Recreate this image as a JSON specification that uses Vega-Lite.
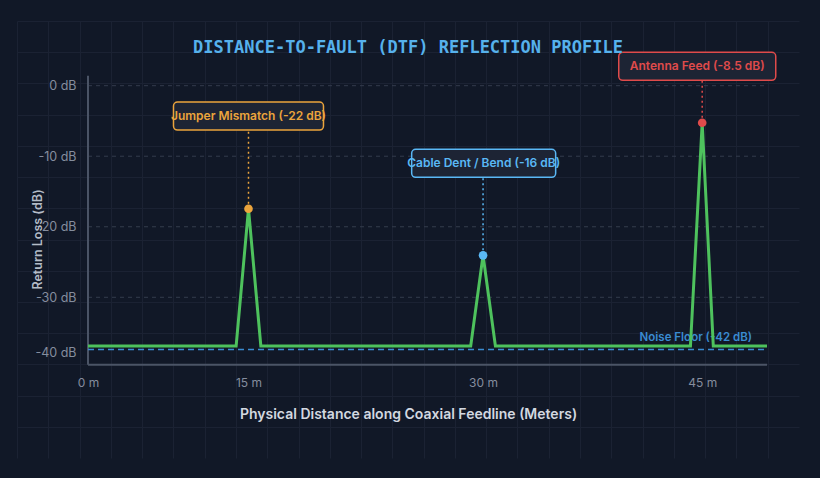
{
  "$schema": "https://vega.github.io/schema/vega-lite/v6.json",
  "autosize": {"type": "none"},
  "width": 782,
  "height": 437,
  "padding": {"left": 17, "top": 21, "right": 21, "bottom": 20},
  "background": "#111827",
  "title": {
    "text": "DISTANCE-TO-FAULT (DTF) REFLECTION PROFILE",
    "font": "DejaVu Sans Mono",
    "fontSize": 17,
    "fontWeight": "bold",
    "color": "#56b1ec",
    "baseline": "middle",
    "offset": -44
  },
  "datasets": {
    "trace": [
      {"sample": 0, "return_loss_db": -36.9},
      {"sample": 12, "return_loss_db": -36.9},
      {"sample": 13, "return_loss_db": -17.45},
      {"sample": 14, "return_loss_db": -36.9},
      {"sample": 31, "return_loss_db": -36.9},
      {"sample": 32, "return_loss_db": -24.05},
      {"sample": 33, "return_loss_db": -36.9},
      {"sample": 48.8, "return_loss_db": -36.9},
      {"sample": 49.75, "return_loss_db": -5.25},
      {"sample": 50.65, "return_loss_db": -36.9},
      {"sample": 55, "return_loss_db": -36.9}
    ],
    "events": [
      {"event": "Jumper Mismatch", "label": "Jumper Mismatch (-22 dB)", "sample": 13, "return_loss_db": -17.45, "label_sample": 13, "label_db": -4.3},
      {"event": "Cable Dent / Bend", "label": "Cable Dent / Bend (-16 dB)", "sample": 32, "return_loss_db": -24.05, "label_sample": 32.05, "label_db": -11},
      {"event": "Antenna Feed", "label": "Antenna Feed (-8.5 dB)", "sample": 49.75, "return_loss_db": -5.25, "label_sample": 49.35, "label_db": 2.75}
    ],
    "ticks": [
      {"return_loss_db": 0},
      {"return_loss_db": -10},
      {"return_loss_db": -20},
      {"return_loss_db": -30}
    ],
    "floor": [
      {"label": "Noise Floor (-42 dB)", "return_loss_db": -37.4}
    ],
    "frame": [{}]
  },
  "data": {"name": "frame"},
  "layer": [
    {
      "mark": {"type": "point", "opacity": 0},
      "encoding": {
        "x": {
          "datum": 0,
          "type": "quantitative",
          "scale": {"domain": [0, 25], "nice": false, "zero": false},
          "axis": {
            "orient": "top",
            "values": [0, 1, 2, 3, 4, 5, 6, 7, 8, 9, 10, 11, 12, 13, 14, 15, 16, 17, 18, 19, 20, 21, 22, 23, 24],
            "grid": true,
            "gridColor": "#1b2233",
            "gridOpacity": 1,
            "labels": false,
            "ticks": false,
            "domain": false,
            "title": null
          }
        },
        "y": {
          "datum": 0,
          "type": "quantitative",
          "scale": {"domain": [0, 14], "nice": false, "zero": false},
          "axis": {
            "orient": "right",
            "values": [1, 2, 3, 4, 5, 6, 7, 8, 9, 10, 11, 12, 13, 14],
            "grid": true,
            "gridColor": "#1b2233",
            "gridOpacity": 1,
            "labels": false,
            "ticks": false,
            "domain": false,
            "title": null
          }
        }
      }
    },
    {
      "layer": [
        {
          "data": {"name": "ticks"},
          "mark": {"type": "rule", "color": "#343c4d", "strokeWidth": 1, "strokeDash": [4, 4]},
          "encoding": {
            "x": {"datum": 0, "type": "quantitative"},
            "x2": {"datum": 55},
            "y": {"field": "return_loss_db", "type": "quantitative"}
          }
        },
        {
          "mark": {"type": "rule", "color": "#4b5466", "strokeWidth": 2},
          "encoding": {
            "x": {"datum": 0, "type": "quantitative"},
            "y": {"datum": 1.42, "type": "quantitative"},
            "y2": {"datum": -39.56}
          }
        },
        {
          "mark": {"type": "rule", "color": "#4b5466", "strokeWidth": 2},
          "encoding": {
            "x": {"datum": 0, "type": "quantitative"},
            "x2": {"datum": 55},
            "y": {"datum": -39.56, "type": "quantitative"}
          }
        },
        {
          "data": {"name": "floor"},
          "mark": {"type": "text", "align": "right", "baseline": "middle", "dx": -15, "dy": -11.5, "font": "Inter", "fontSize": 11.5, "fontWeight": 600, "color": "#3a8bd1"},
          "encoding": {
            "x": {"datum": 55, "type": "quantitative"},
            "y": {"field": "return_loss_db", "type": "quantitative"},
            "text": {"field": "label"}
          }
        },
        {
          "data": {"name": "floor"},
          "mark": {"type": "rule", "color": "#3a8bd1", "strokeWidth": 1.5, "strokeDash": [6, 4]},
          "encoding": {
            "x": {"datum": 0, "type": "quantitative"},
            "x2": {"datum": 55},
            "y": {"field": "return_loss_db", "type": "quantitative"}
          }
        },
        {
          "data": {"name": "events"},
          "mark": {"type": "rule", "strokeWidth": 1.5, "strokeDash": [2, 3]},
          "encoding": {
            "x": {"field": "sample", "type": "quantitative"},
            "y": {"field": "return_loss_db", "type": "quantitative"},
            "y2": {"field": "label_db"},
            "color": {
              "field": "event",
              "type": "nominal",
              "scale": {"domain": ["Jumper Mismatch", "Cable Dent / Bend", "Antenna Feed"], "range": ["#eba43c", "#5ab8f5", "#e04b4b"]},
              "legend": null
            }
          }
        },
        {
          "data": {"name": "trace"},
          "mark": {"type": "line", "color": "#4ec25d", "strokeWidth": 3},
          "encoding": {
            "x": {
              "field": "sample",
              "type": "quantitative",
              "scale": {"domain": [-5.751, 57.592], "nice": false, "zero": false},
              "axis": {
                "orient": "bottom",
                "offset": -93,
                "values": [0, 13, 32, 49.75],
                "labelExpr": "datum.value === 0 ? '0 m' : datum.value === 13 ? '15 m' : datum.value === 32 ? '30 m' : '45 m'",
                "labelFlush": false,
                "domain": false,
                "ticks": false,
                "grid": false,
                "labelPadding": 12,
                "labelFont": "Inter",
                "labelFontSize": 12,
                "labelColor": "#858d9e",
                "title": "Physical Distance along Coaxial Feedline (Meters)",
                "titleFont": "Inter",
                "titleFontSize": 14,
                "titleFontWeight": 600,
                "titleColor": "#d3d8e0",
                "titlePadding": 19
              }
            },
            "y": {
              "field": "return_loss_db",
              "type": "quantitative",
              "scale": {"domain": [-52.786, 9.173], "nice": false, "zero": false},
              "axis": {
                "orient": "left",
                "offset": -71,
                "values": [0, -10, -20, -30, -40],
                "labelExpr": "datum.value + ' dB'",
                "labelOffset": {"condition": {"test": "datum.value === -40", "value": -15.5}, "value": 0},
                "domain": false,
                "ticks": false,
                "grid": false,
                "labelPadding": 12,
                "labelFont": "Inter",
                "labelFontSize": 12.5,
                "labelColor": "#858d9e",
                "title": "Return Loss (dB)",
                "titleX": -51,
                "titleY": 218,
                "titleAngle": 270,
                "titleAlign": "center",
                "titleBaseline": "middle",
                "titleFont": "Inter",
                "titleFontSize": 12.5,
                "titleFontWeight": 600,
                "titleColor": "#b4bcc8"
              }
            }
          }
        },
        {
          "data": {"name": "events"},
          "mark": {"type": "point", "filled": true, "opacity": 1, "size": 75},
          "encoding": {
            "x": {"field": "sample", "type": "quantitative"},
            "y": {"field": "return_loss_db", "type": "quantitative"},
            "color": {"field": "event", "type": "nominal", "legend": null}
          }
        },
        {
          "data": {"name": "events"},
          "mark": {
            "type": "rect",
            "fill": "#1d2434",
            "strokeWidth": 1.5,
            "cornerRadius": 4,
            "height": 28,
            "width": {"expr": "datum.event === 'Antenna Feed' ? 157 : datum.event === 'Jumper Mismatch' ? 150 : 144"}
          },
          "encoding": {
            "x": {"field": "label_sample", "type": "quantitative"},
            "y": {"field": "label_db", "type": "quantitative"},
            "stroke": {
              "field": "event",
              "type": "nominal",
              "scale": {"domain": ["Jumper Mismatch", "Cable Dent / Bend", "Antenna Feed"], "range": ["#eba43c", "#5ab8f5", "#e04b4b"]},
              "legend": null
            }
          }
        },
        {
          "data": {"name": "events"},
          "mark": {"type": "text", "baseline": "middle", "align": "center", "font": "Inter", "fontSize": 12, "fontWeight": 600},
          "encoding": {
            "x": {"field": "label_sample", "type": "quantitative"},
            "y": {"field": "label_db", "type": "quantitative"},
            "text": {"field": "label"},
            "color": {"field": "event", "type": "nominal", "legend": null}
          }
        }
      ]
    }
  ],
  "resolve": {"scale": {"x": "independent", "y": "independent"}},
  "config": {
    "view": {"stroke": null},
    "font": "Inter"
  }
}
